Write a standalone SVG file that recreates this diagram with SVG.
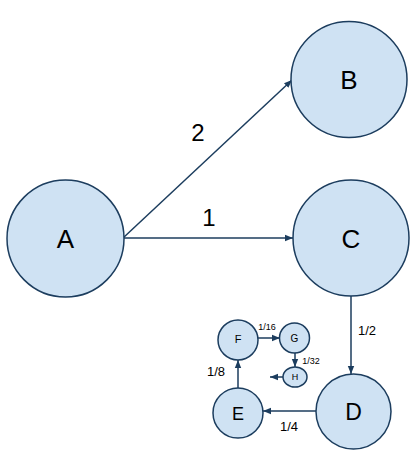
<svg xmlns="http://www.w3.org/2000/svg" width="411" height="455" viewBox="0 0 411 455">
<style>
.n{fill:#cfe2f3;stroke:#1c3d5e;stroke-width:1.5}
.e{stroke:#1c3d5e;stroke-width:1.5;fill:none}
text{font-family:"Liberation Sans",Arial,sans-serif;fill:#000;text-anchor:middle;dominant-baseline:central}
</style>
<defs>
<marker id="ah" viewBox="0 0 10 10" refX="10" refY="5" markerWidth="5" markerHeight="5" orient="auto" markerUnits="userSpaceOnUse">
<path d="M0,1 L10,5 L0,9 z" fill="#1c3d5e"/>
</marker>
<marker id="ahb" viewBox="0 0 10 10" refX="10" refY="5" markerWidth="8" markerHeight="8" orient="auto" markerUnits="userSpaceOnUse">
<path d="M0,1 L10,5 L0,9 z" fill="#1c3d5e"/>
</marker>
</defs>
<g id="connectors">
<line class="e" x1="123" y1="238" x2="292" y2="80" marker-end="url(#ahb)"/>
<line class="e" x1="123" y1="238" x2="293" y2="238" marker-end="url(#ahb)"/>
<line class="e" x1="351" y1="296" x2="351" y2="374" marker-end="url(#ahb)"/>
<line class="e" x1="316" y1="411" x2="263" y2="411" marker-end="url(#ahb)"/>
<line class="e" x1="238" y1="388" x2="238" y2="360" marker-end="url(#ahb)"/>
<line class="e" x1="258" y1="338" x2="280" y2="338" marker-end="url(#ahb)"/>
<line class="e" x1="295" y1="353" x2="295" y2="367" marker-end="url(#ahb)"/>
<line class="e" x1="283" y1="377" x2="270" y2="377" marker-end="url(#ahb)"/>
<text x="198" y="132" font-size="24">2</text>
<text x="209" y="217" font-size="24">1</text>
<text x="367" y="330" font-size="13">1/2</text>
<text x="289" y="426" font-size="13">1/4</text>
<text x="216" y="371" font-size="13">1/8</text>
<text x="267" y="327" font-size="9">1/16</text>
<text x="311" y="361" font-size="9">1/32</text>
</g>
<g id="A"><circle class="n" cx="65.5" cy="238.5" r="58.5"/><text x="65.5" y="239" font-size="26">A</text></g>
<g id="B"><circle class="n" cx="349" cy="79.5" r="58"/><text x="349" y="80" font-size="26">B</text></g>
<g id="C"><circle class="n" cx="351" cy="238" r="58"/><text x="351" y="238.5" font-size="26">C</text></g>
<g id="D"><circle class="n" cx="353.5" cy="411.5" r="37.5"/><text x="353.5" y="412" font-size="23">D</text></g>
<g id="E"><circle class="n" cx="238" cy="413" r="25"/><text x="238" y="413.5" font-size="18">E</text></g>
<g id="F"><circle class="n" cx="238" cy="340" r="20"/><text x="238" y="339" font-size="11">F</text></g>
<g id="G"><circle class="n" cx="294.5" cy="338" r="15"/><text x="294.5" y="338" font-size="10">G</text></g>
<g id="H"><ellipse class="n" cx="295" cy="377" rx="12" ry="10"/><text x="295" y="377" font-size="9">H</text></g>
</svg>
